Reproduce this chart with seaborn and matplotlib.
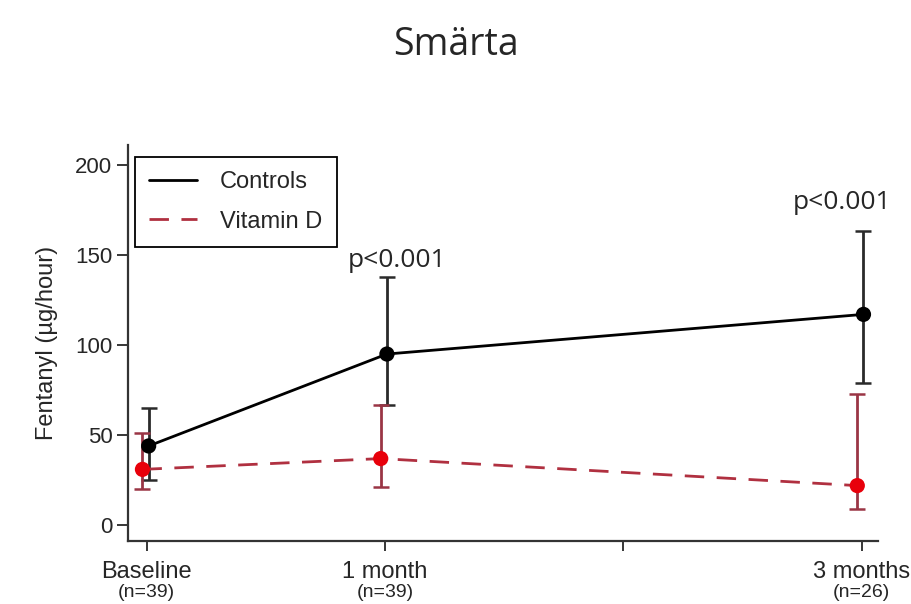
import pandas as pd
import matplotlib
matplotlib.use('Agg')
import matplotlib.pyplot as plt
import matplotlib.transforms as mtransforms
import seaborn as sns

# values
months = [0, 1, 3]
tick_labels = ['Baseline', '1 month', '3 months']
n_labels = ['(n=39)', '(n=39)', '(n=26)']
controls_mean = [44, 95, 117]
controls_low = [25, 67, 79]
controls_high = [65, 138, 163]
vitd_mean = [31, 37, 22]
vitd_low = [20, 21, 9]
vitd_high = [51, 67, 73]
p_labels = ['p<0.001', 'p<0.001']
p_months = [1.05, 2.92]
p_values_y = [147, 179]

groups = ['Controls', 'Vitamin D']
offsets = {'Controls': 0.008, 'Vitamin D': -0.018}

df = pd.concat([
    pd.DataFrame({'month': months, 'mean': controls_mean, 'low': controls_low,
                  'high': controls_high, 'group': 'Controls'}),
    pd.DataFrame({'month': months, 'mean': vitd_mean, 'low': vitd_low,
                  'high': vitd_high, 'group': 'Vitamin D'}),
], ignore_index=True)
df['x'] = df['month'] + df['group'].map(offsets)

line_colors = {'Controls': '#000000', 'Vitamin D': '#b03040'}
point_colors = {'Controls': '#000000', 'Vitamin D': '#e8000b'}
bar_colors = {'Controls': '#2a2a2a', 'Vitamin D': '#9a3545'}

sns.set_style('white')
plt.rcParams['font.family'] = ['Liberation Sans', 'DejaVu Sans']

fig = plt.figure(figsize=(9.12, 6.04), dpi=100)
ax = fig.add_axes([0.14, 0.105, 0.823, 0.655])

# error bars first, so the lines and points sit on top
for g in groups:
    sub = df[df['group'] == g]
    ax.errorbar(sub['x'], sub['mean'],
                yerr=[sub['mean'] - sub['low'], sub['high'] - sub['mean']],
                fmt='none', ecolor=bar_colors[g], elinewidth=2, capsize=6,
                capthick=1.8, zorder=2)

sns.lineplot(data=df, x='x', y='mean', hue='group', style='group',
             palette=line_colors, dashes={'Controls': '', 'Vitamin D': (7, 4.5)},
             linewidth=2, ax=ax, zorder=3)
sns.scatterplot(data=df, x='x', y='mean', hue='group', palette=point_colors,
                s=120, edgecolor='none', legend=False, ax=ax, zorder=4)

ax.set_xlim(-0.08, 3.07)
ax.set_ylim(-8.5, 211)
ax.set_yticks([0, 50, 100, 150, 200])
ax.set_xticks([0, 1, 2, 3])
ax.set_xticklabels([tick_labels[0], tick_labels[1], '', tick_labels[2]], fontsize=17)
ax.tick_params(axis='y', labelsize=16, length=8, width=1.3, direction='out', left=True, pad=3)
ax.tick_params(axis='x', length=7, width=1.3, direction='out', bottom=True, pad=8)
ax.set_xlabel('')
ax.set_ylabel('Fentanyl (\u00b5g/hour)', fontsize=17, labelpad=12)

sns.despine(ax=ax)
for side in ['left', 'bottom']:
    ax.spines[side].set_linewidth(1.6)
    ax.spines[side].set_color('#333333')

# sample sizes under the tick labels
trans = mtransforms.blended_transform_factory(ax.transData, ax.transAxes)
for m, lab in zip(months, n_labels):
    ax.text(m, -0.13, lab, transform=trans, ha='center', va='center', fontsize=14)

for px, py, lab in zip(p_months, p_values_y, p_labels):
    ax.text(px, py, lab, ha='center', va='center', fontsize=19, family='Open Sans')

leg = ax.legend(title=None, loc='upper left', bbox_to_anchor=(0.01, 0.97),
                borderaxespad=0, fontsize=17, frameon=True, fancybox=False,
                edgecolor='black', framealpha=1, handlelength=2.0,
                handletextpad=1.0, borderpad=0.6, labelspacing=0.75)
leg.get_frame().set_linewidth(1.3)

fig.text(0.5, 0.925, 'Smärta', ha='center', va='center', fontsize=27, family='Open Sans')

fig.savefig('out.png', dpi=100)
